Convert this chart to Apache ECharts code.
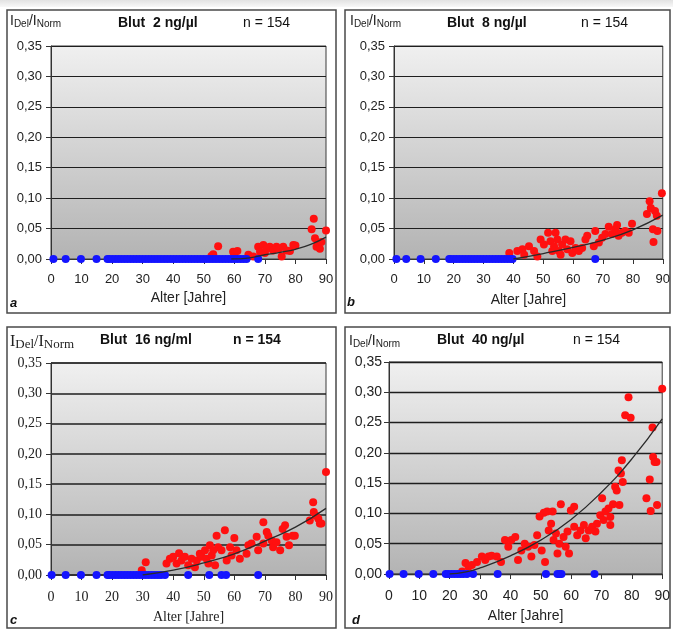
<!DOCTYPE html>
<html><head><meta charset="utf-8">
<script src="https://cdn.jsdelivr.net/npm/echarts/dist/echarts.min.js"></script>
<style>html,body{margin:0;padding:0;background:#fff}#c{width:673px;height:629px}</style>
</head><body><div id="c"></div>
<script>
// ---------- DATA ----------
const xTicks = [0, 10, 20, 30, 40, 50, 60, 70, 80, 90];
const yTicks = [0, 0.05, 0.10, 0.15, 0.20, 0.25, 0.30, 0.35];
const panelTitles = ['Blut  2 ng/µl', 'Blut  8 ng/µl', 'Blut  16 ng/ml', 'Blut  40 ng/µl'];
const sampleLabel = 'n = 154';
const panelLetters = ['a', 'b', 'c', 'd'];

// Panel a (2 ng/µl)
const redAgeA = [52.5, 53.1, 54.7, 59.6, 60, 61, 64.6, 66.2, 67.8, 68.4, 69.5, 70, 70.6, 71.6, 72.7, 73.8, 74.5, 75.5, 76, 77.1, 78.2, 79.3, 80, 85.3, 86, 86.4, 86.9, 87.5, 88, 88.5, 90];
const redValA = [0.005, 0.008, 0.021, 0.012, 0.008, 0.013, 0.007, 0.004, 0.020, 0.012, 0.023, 0.010, 0.017, 0.020, 0.014, 0.020, 0.017, 0.004, 0.020, 0.014, 0.013, 0.023, 0.022, 0.049, 0.066, 0.034, 0.020, 0.026, 0.017, 0.028, 0.047];
const blueAgeA = [0.8, 4.8, 9.8, 14.9, 18.5, 19, 20, 21, 22, 23, 24, 25, 26, 27, 28, 29, 30, 31, 32, 33, 34, 35, 36, 37, 38, 39, 40, 41, 42, 43, 44, 45, 46, 47, 48, 49, 50, 51, 52, 53, 54, 55, 56, 57, 58, 59, 60, 61, 62, 63, 64, 67.8];
const trendAgeA = [59, 65, 70, 75, 80, 85, 90];
const trendValA = [0, 0.002, 0.007, 0.011, 0.016, 0.024, 0.036];

// Panel b (8 ng/µl)
const redAgeB = [38.6, 41.3, 43, 43.6, 45.2, 46.9, 48, 49.1, 50.2, 51.6, 52.4, 53, 53.6, 54.1, 54.7, 55.2, 55.8, 56.3, 57.4, 58, 59.1, 59.7, 60.8, 61.9, 63, 64.1, 64.7, 66.9, 67.4, 68.6, 69.7, 70.8, 71.9, 73, 74.1, 74.7, 75.2, 76.3, 77.4, 78.6, 79.7, 84.7, 85.6, 86, 86.7, 86.9, 87.4, 88, 88.2, 89.7];
const redValB = [0.010, 0.013, 0.016, 0.007, 0.021, 0.013, 0.004, 0.032, 0.024, 0.043, 0.029, 0.013, 0.021, 0.043, 0.032, 0.013, 0.007, 0.024, 0.032, 0.016, 0.029, 0.010, 0.018, 0.013, 0.018, 0.032, 0.038, 0.021, 0.046, 0.027, 0.035, 0.041, 0.053, 0.041, 0.049, 0.056, 0.038, 0.043, 0.046, 0.043, 0.058, 0.074, 0.095, 0.084, 0.049, 0.028, 0.079, 0.071, 0.046, 0.108];
const blueAgeB = [0.8, 4.1, 8.9, 14, 18.5, 19, 20, 21, 22, 23, 24, 25, 26, 27, 28, 29, 30, 31, 32, 33, 34, 35, 36, 37, 38, 39, 39.7, 67.4];
const trendAgeB = [40, 50, 60, 70, 80, 90];
const trendValB = [0, 0.009, 0.019, 0.031, 0.048, 0.072];

// Panel c (16 ng/µl)
const redAgeC = [29.7, 31, 37.8, 38.9, 40, 41.1, 41.9, 42.7, 43.8, 44.9, 46, 47.1, 47.7, 48.7, 49.3, 50.4, 50.9, 51.5, 52, 52.6, 53.1, 53.7, 54.2, 54.7, 55.8, 56.9, 57.5, 58.6, 59.1, 60, 60.7, 61.8, 64, 64.6, 65.6, 67.3, 67.8, 69.5, 69.5, 70.6, 71.1, 72.2, 72.7, 73.8, 75, 75.8, 76.6, 77.1, 77.9, 79.1, 79.8, 84.7, 85.8, 86, 86.7, 87.5, 88, 88.5, 90];
const redValC = [0.008, 0.021, 0.019, 0.027, 0.030, 0.019, 0.036, 0.024, 0.030, 0.016, 0.027, 0.013, 0.024, 0.035, 0.030, 0.041, 0.027, 0.019, 0.049, 0.032, 0.041, 0.016, 0.065, 0.046, 0.041, 0.074, 0.024, 0.046, 0.032, 0.061, 0.041, 0.027, 0.035, 0.049, 0.052, 0.063, 0.041, 0.087, 0.052, 0.071, 0.065, 0.057, 0.046, 0.054, 0.041, 0.076, 0.082, 0.063, 0.049, 0.065, 0.065, 0.090, 0.120, 0.104, 0.098, 0.093, 0.085, 0.085, 0.170];
const blueAgeC = [0.2, 4.8, 9.8, 14.9, 18.5, 19, 20, 21, 22, 23, 24, 25, 26, 27, 28, 29, 30, 31, 32, 33, 34, 35, 36, 37.3, 44.9, 51.8, 55.8, 57.3, 67.8];
const trendAgeC = [30, 40, 50, 60, 70, 80, 90];
const trendValC = [0, 0.008, 0.020, 0.035, 0.056, 0.079, 0.110];

// Panel d (40 ng/µl)
const redAgeD = [24.1, 25.2, 26.2, 27.3, 29, 30.6, 31.7, 32.8, 33.8, 35.5, 36.9, 38.2, 39.3, 40.3, 41.6, 42.5, 43.6, 44.7, 45.8, 46.9, 47.9, 48.8, 49.6, 50.3, 51, 51.4, 52.1, 52.6, 53.4, 53.9, 54.2, 55, 55.5, 56.1, 56.6, 57.5, 58.2, 58.8, 59.3, 59.9, 61, 61, 62, 63.1, 64.2, 64.8, 65.8, 66.9, 68, 68.5, 69.6, 70.2, 70.7, 71.3, 72.3, 72.9, 72.9, 73.8, 74.5, 75, 75.6, 75.9, 76.4, 76.7, 77, 77.8, 78.9, 79.6, 84.8, 85.9, 86.2, 86.8, 87, 87.5, 88.1, 88.3, 90];
const redValD = [0.004, 0.018, 0.012, 0.015, 0.020, 0.029, 0.023, 0.029, 0.030, 0.029, 0.020, 0.056, 0.045, 0.056, 0.061, 0.023, 0.039, 0.050, 0.045, 0.029, 0.048, 0.064, 0.095, 0.039, 0.101, 0.020, 0.103, 0.072, 0.083, 0.103, 0.056, 0.067, 0.034, 0.050, 0.115, 0.061, 0.045, 0.070, 0.034, 0.105, 0.111, 0.078, 0.064, 0.072, 0.081, 0.059, 0.072, 0.078, 0.070, 0.083, 0.097, 0.125, 0.089, 0.103, 0.108, 0.094, 0.081, 0.115, 0.144, 0.138, 0.171, 0.114, 0.166, 0.188, 0.152, 0.262, 0.292, 0.258, 0.125, 0.156, 0.104, 0.242, 0.193, 0.185, 0.185, 0.114, 0.306];
const blueAgeD = [0.2, 4.8, 9.8, 14.6, 18.7, 19.5, 20.5, 21.5, 22.5, 23.5, 24.5, 25.7, 27.7, 35.8, 51.7, 55.5, 56.2, 56.8, 67.7];
const trendAgeD = [20, 25, 30, 40, 50, 60, 70, 80, 90];
const trendValD = [0, 0.003, 0.010, 0.030, 0.056, 0.090, 0.135, 0.190, 0.256];

// ---------- LAYOUT ----------
const sans = 'Liberation Sans, Arial, sans-serif';
const serif = 'Liberation Serif, Times New Roman, serif';
const layout = [
  {grid:{left:51, top:46, width:275, height:213}, box:[7,10,329,303], font:sans, tickFont:13, xMargin:14, yMargin:9, nameGap:32, split:1,
   yname:[10,14], title:[118,16], n:[243,16], letter:[10,297], titleFont:sans, nBold:false, ysz:[14,10]},
  {grid:{left:394, top:46, width:271, height:213}, box:[345,10,325,303], font:sans, tickFont:13, xMargin:14, yMargin:9, nameGap:34, split:1,
   yname:[350,14], title:[447,16], n:[581,16], letter:[347,296], titleFont:sans, nBold:false, ysz:[14,10]},
  {grid:{left:51, top:363, width:275, height:212}, box:[7,327,329,301], font:serif, tickFont:14, xMargin:15, yMargin:9, nameGap:35, split:1.6,
   yname:[10,334], title:[100,333], n:[233,333], letter:[10,614], titleFont:sans, nBold:true, ysz:[16,13]},
  {grid:{left:389, top:362, width:277, height:212}, box:[345,327,325,301], font:sans, tickFont:14, xMargin:15, yMargin:7, nameGap:35, split:1.3,
   yname:[349,334], title:[437,333], n:[573,333], letter:[352,614], titleFont:sans, nBold:false, ysz:[14,10]}
];

const redAges = [redAgeA, redAgeB, redAgeC, redAgeD];
const redVals = [redValA, redValB, redValC, redValD];
const blueAges = [blueAgeA, blueAgeB, blueAgeC, blueAgeD];
const trendAges = [trendAgeA, trendAgeB, trendAgeC, trendAgeD];
const trendVals = [trendValA, trendValB, trendValC, trendValD];

const zip = (a, b) => a.map((v, i) => [v, b[i]]);
const fmtY = v => v.toFixed(2).replace('.', ',');

const grids = [], xAxes = [], yAxes = [], series = [], titles = [], graphics = [];

graphics.push({type:'rect', shape:{x:0, y:0, width:673, height:7},
  style:{fill:new echarts.graphic.LinearGradient(0,0,0,1,[{offset:0,color:'#e2e2e2'},{offset:1,color:'#f8f8f8'}])}, silent:true});

layout.forEach((L, i) => {
  grids.push(Object.assign({show:true, borderColor:'#3a3a3a', borderWidth:1,
    backgroundColor:new echarts.graphic.LinearGradient(0,0,0,1,[{offset:0,color:'#f0f0f0'},{offset:1,color:'#b3b3b3'}])}, L.grid));
  xAxes.push({type:'value', gridIndex:i, min:xTicks[0], max:xTicks[xTicks.length-1], interval:xTicks[1]-xTicks[0],
    name:'Alter [Jahre]', nameLocation:'middle', nameGap:L.nameGap,
    nameTextStyle:{fontFamily:L.font, fontSize:14, color:'#222'},
    axisLine:{show:true, onZero:false, lineStyle:{color:'#333', width:1}},
    axisTick:{show:true, length:5, lineStyle:{color:'#333'}},
    axisLabel:{fontFamily:L.font, fontSize:L.tickFont, color:'#222', margin:L.xMargin},
    splitLine:{show:false}});
  yAxes.push({type:'value', gridIndex:i, min:yTicks[0], max:yTicks[yTicks.length-1], interval:0.05,
    axisLine:{show:true, lineStyle:{color:'#333', width:1}},
    axisTick:{show:true, length:5, lineStyle:{color:'#333'}},
    axisLabel:{fontFamily:L.font, fontSize:L.tickFont, color:'#222', margin:L.yMargin, formatter:fmtY},
    splitLine:{show:true, lineStyle:{color:'#1e1e1e', width:L.split}}});
  series.push({type:'scatter', xAxisIndex:i, yAxisIndex:i, data:zip(redAges[i], redVals[i]),
    symbolSize:8, itemStyle:{color:'#ff1010', opacity:1}, z:3});
  series.push({type:'scatter', xAxisIndex:i, yAxisIndex:i, data:blueAges[i].map(a => [a, 0]),
    symbolSize:8, itemStyle:{color:'#1414ff', opacity:1}, z:4});
  series.push({type:'line', xAxisIndex:i, yAxisIndex:i, data:zip(trendAges[i], trendVals[i]),
    smooth:true, showSymbol:false, lineStyle:{color:'#2a2a2a', width:1.3}, z:5});

  titles.push({text:'{m|I}{s|Del}{m|/I}{s|Norm}', left:L.yname[0], top:L.yname[1], padding:0,
    textStyle:{fontWeight:'normal', rich:{
      m:{fontFamily:L.font, fontWeight:'normal', fontSize:L.ysz[0], color:'#222', verticalAlign:'top', lineHeight:L.ysz[0]+2},
      s:{fontFamily:L.font, fontWeight:'normal', fontSize:L.ysz[1], color:'#222', verticalAlign:'top', padding:[L.ysz[0]-L.ysz[1]+1,0,0,0], lineHeight:L.ysz[1]+2}}}});
  titles.push({text:panelTitles[i], left:L.title[0], top:L.title[1], padding:0,
    textStyle:{fontFamily:L.titleFont, fontSize:14, fontWeight:'bold', color:'#111'}});
  titles.push({text:sampleLabel, left:L.n[0], top:L.n[1], padding:0,
    textStyle:{fontFamily:sans, fontSize:14, fontWeight:L.nBold ? 'bold' : 'normal', color:'#111'}});
  titles.push({text:panelLetters[i], left:L.letter[0], top:L.letter[1], padding:0,
    textStyle:{fontFamily:sans, fontSize:13, fontWeight:'bold', fontStyle:'italic', color:'#111'}});

  graphics.push({type:'rect', shape:{x:L.box[0], y:L.box[1], width:L.box[2], height:L.box[3]},
    style:{fill:'none', stroke:'#4a4a4a', lineWidth:1.5}, silent:true, z:-1});
});

const chart = echarts.init(document.getElementById('c'), null, {renderer:'canvas'});
chart.setOption({
  animation:false,
  backgroundColor:'#ffffff',
  title:titles,
  grid:grids,
  xAxis:xAxes,
  yAxis:yAxes,
  series:series,
  graphic:graphics
});
</script></body></html>
